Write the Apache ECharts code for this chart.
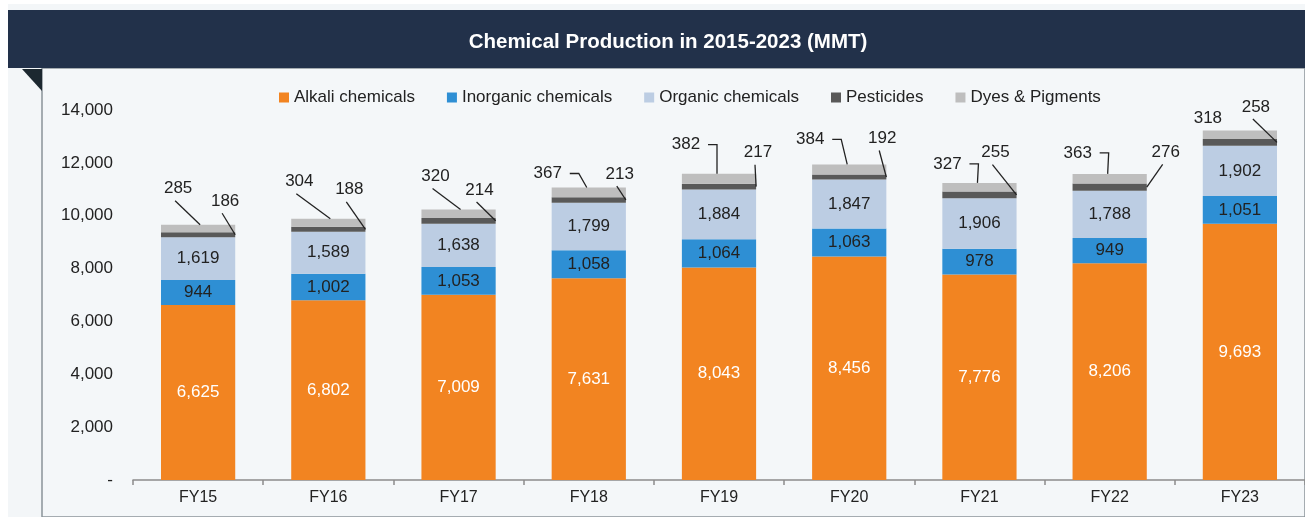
<!DOCTYPE html>
<html>
<head>
<meta charset="utf-8">
<script src="https://cdn.jsdelivr.net/npm/echarts@6/dist/echarts.min.js"></script>
<style>
  html, body { margin: 0; padding: 0; background: #ffffff; }
  #chart { width: 1305px; height: 517px; }
</style>
</head>
<body>
<div id="chart"></div>
<script>
const years = ["FY15", "FY16", "FY17", "FY18", "FY19", "FY20", "FY21", "FY22", "FY23"];
const alkali = [6625, 6802, 7009, 7631, 8043, 8456, 7776, 8206, 9693];
const inorganic = [944, 1002, 1053, 1058, 1064, 1063, 978, 949, 1051];
const organic = [1619, 1589, 1638, 1799, 1884, 1847, 1906, 1788, 1902];
const pesticides = [186, 188, 214, 213, 217, 192, 255, 276, 258];
const dyes = [285, 304, 320, 367, 382, 384, 327, 363, 318];

// where the outside labels sit, relative to their segment (px), and leader style
const dyesShift = [[-20, -36], [-29, -37], [-23, -33], [-41, -14], [-33, -29], [-39, -25], [-32, -19], [-32, -21], [-32, -12]];
const dyesLeader = ["diag", "diag", "diag", "elbow", "elbow", "elbow", "elbow", "elbow", "none"];
const pestShift = [[27, -31], [21, -37], [21, -28], [31, -23], [39, -31], [33, -36], [16, -39], [56, -31], [16, -32]];

const BAR_RATIO = 0.57;
const fmt = (v) => v.toLocaleString("en-US");
const font = "Liberation Sans, Arial, sans-serif";

// one row per year for the outside labels: index, bar total, dyes, pesticides
const leaderData = years.map((y, i) => [
  i,
  alkali[i] + inorganic[i] + organic[i] + pesticides[i] + dyes[i],
  dyes[i],
  pesticides[i],
]);

const chart = echarts.init(document.getElementById("chart"));

function stackBar(name, data, color, textColor) {
  return {
    name: name,
    type: "bar",
    stack: "total",
    barWidth: BAR_RATIO * 100 + "%",
    data: data,
    itemStyle: { color: color },
    label: {
      show: !!textColor,
      position: "inside",
      color: textColor,
      fontSize: 17,
      fontFamily: font,
      formatter: (p) => fmt(p.value),
    },
  };
}

function renderLeaders(params, api) {
  const i = api.value(0);
  const total = api.value(1);
  const dv = api.value(2);
  const pv = api.value(3);
  const top = api.coord([i, total]);
  const pestTop = api.coord([i, total - dv]);
  const pestBot = api.coord([i, total - dv - pv]);
  const half = (api.size([1, 0])[0] * BAR_RATIO) / 2;
  const bx = top[0];
  const lineStyle = { stroke: "#222", lineWidth: 1.3, fill: null };
  const textStyle = (t, x, y) => ({
    text: t, x: x, y: y, fill: "#222", font: "17px " + font, align: "center", verticalAlign: "middle",
  });
  const children = [];

  // dyes & pigments
  const dx = bx + dyesShift[i][0];
  const dy = top[1] + dyesShift[i][1];
  children.push({ type: "text", style: textStyle(fmt(dv), dx, dy) });
  if (dyesLeader[i] === "elbow") {
    const sx = dx + 22;
    children.push({ type: "polyline", shape: { points: [[sx, dy], [sx + 9, dy], [bx - 2, top[1]]] }, style: lineStyle });
  } else if (dyesLeader[i] === "diag") {
    children.push({ type: "polyline", shape: { points: [[dx - 3, dy + 12], [bx + 2, top[1]]] }, style: lineStyle });
  }

  // pesticides
  const px = bx + pestShift[i][0];
  const py = pestTop[1] + pestShift[i][1];
  children.push({ type: "text", style: textStyle(fmt(pv), px, py) });
  children.push({
    type: "polyline",
    shape: { points: [[px - 3, py + 12], [bx + half, (pestTop[1] + pestBot[1]) / 2]] },
    style: lineStyle,
  });

  return { type: "group", children: children };
}

chart.setOption({
  animation: false,
  backgroundColor: "#ffffff",
  graphic: [
    { type: "rect", shape: { x: 8, y: 4, width: 1297, height: 513 }, style: { fill: "#f3f6f8" }, z: -10 },
    { type: "rect", shape: { x: 42, y: 68, width: 1263, height: 449 }, style: { fill: "#f4f7f9", stroke: "#8a9499", lineWidth: 1.5 }, z: -9 },
    { type: "rect", shape: { x: 8, y: 10, width: 1297, height: 58 }, style: { fill: "#22314a" }, z: -8 },
    { type: "polygon", shape: { points: [[22, 69], [42, 69], [42, 91]] }, style: { fill: "#1c2830" }, z: -8 },
    {
      type: "text",
      x: 668,
      y: 42,
      style: {
        text: "Chemical Production in 2015-2023 (MMT)",
        fill: "#ffffff",
        font: "bold 20.5px " + font,
        align: "center",
        verticalAlign: "middle",
      },
    },
  ],
  legend: {
    top: 84,
    left: 274,
    icon: "rect",
    itemWidth: 10,
    itemHeight: 10,
    itemGap: 32,
    textStyle: { color: "#222", fontSize: 17, fontFamily: font },
    data: ["Alkali chemicals", "Inorganic chemicals", "Organic chemicals", "Pesticides", "Dyes & Pigments"],
  },
  grid: { left: 133, top: 110, width: 1174, height: 370, containLabel: false },
  xAxis: {
    type: "category",
    data: years,
    axisLine: { lineStyle: { color: "#8c8c8c", width: 1.5 } },
    axisTick: { show: true, length: 5, lineStyle: { color: "#8c8c8c", width: 1.5 } },
    axisLabel: { color: "#222", fontSize: 16, fontFamily: font, margin: 10 },
  },
  yAxis: {
    type: "value",
    min: 0,
    max: 14000,
    interval: 2000,
    splitLine: { show: false },
    axisLine: { show: false },
    axisTick: { show: false },
    axisLabel: {
      color: "#222",
      fontSize: 17,
      fontFamily: font,
      margin: 20,
      formatter: (v) => (v === 0 ? "-" : fmt(v)),
    },
  },
  series: [
    stackBar("Alkali chemicals", alkali, "#f28421", "#ffffff"),
    stackBar("Inorganic chemicals", inorganic, "#2e8fd4", "#222"),
    stackBar("Organic chemicals", organic, "#bccde3", "#222"),
    stackBar("Pesticides", pesticides, "#595959", null),
    stackBar("Dyes & Pigments", dyes, "#bebebe", null),
    {
      name: "leaders",
      type: "custom",
      data: leaderData,
      encode: { x: 0, y: 1 },
      renderItem: renderLeaders,
      z: 5,
      silent: true,
    },
  ],
});
</script>
</body>
</html>
